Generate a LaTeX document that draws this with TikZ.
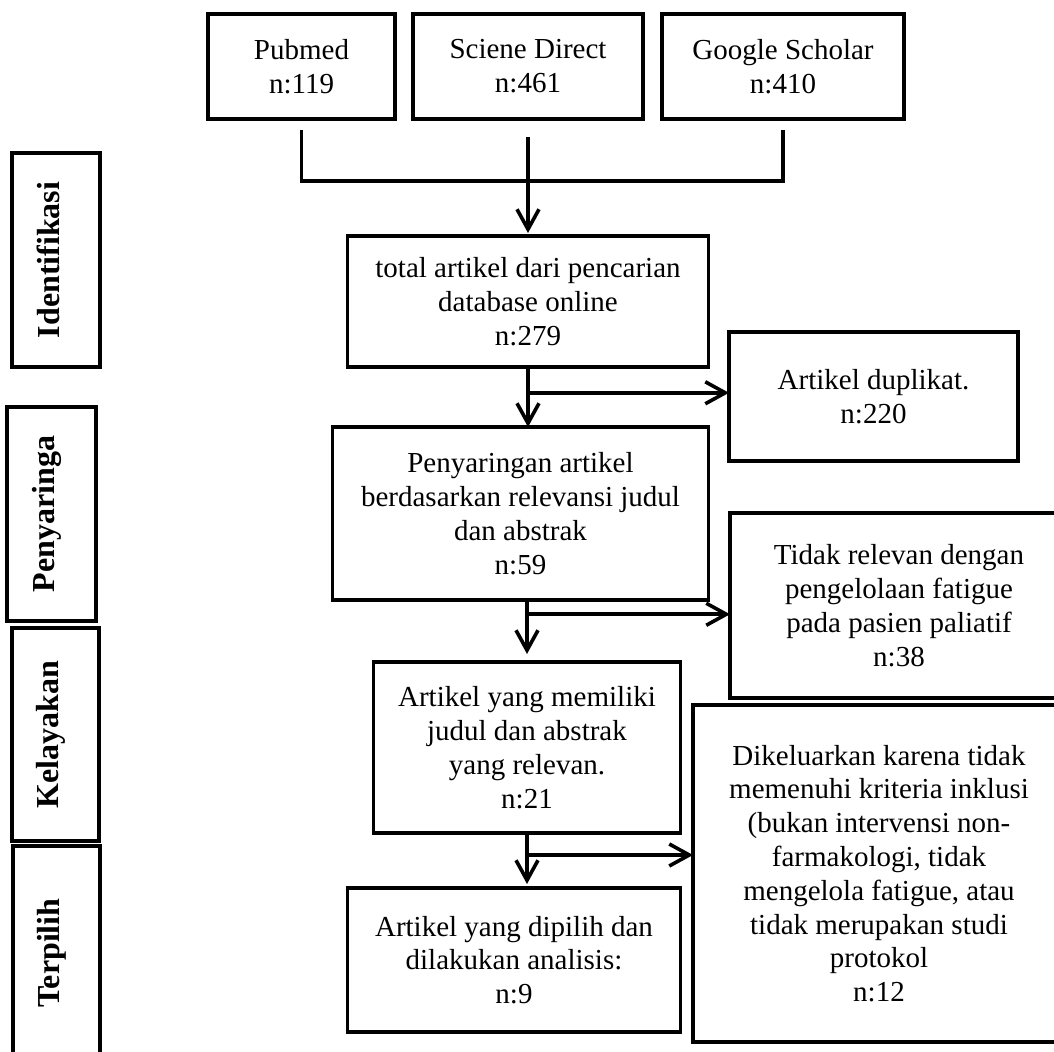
\documentclass[tikz,border=0pt]{standalone}
\usepackage{fontspec}
\setmainfont{Liberation Serif}
\usetikzlibrary{arrows.meta,calc,positioning}

\begin{document}
\begin{tikzpicture}[box/.style={draw,line width=1.7pt,outer sep=0pt,inner sep=0pt,align=center,font=\fontsize{14.5}{16.9}\selectfont},
stage/.style={draw,line width=1.8pt,outer sep=0pt,inner sep=0pt,rotate=90,minimum width=107pt,text height=11pt,text depth=8pt,font=\fontsize{16}{19}\selectfont\bfseries},
link/.style={line width=1.8pt},
arr/.style={line width=1.8pt,-{Straight Barb[length=10pt,width=11pt]}}]
\useasboundingbox (0,0) rectangle (527pt,-526pt);

% Nodes
\node[box,minimum width=93.5pt,minimum height=52.5pt] (pub) at (150.75pt,-33.25pt) {Pubmed\\n:119};
\node[box,minimum width=115pt,minimum height=52.5pt,right=9pt of pub] (sci) {Sciene Direct\\n:461};
\node[box,minimum width=121pt,minimum height=52.5pt,right=9.5pt of sci] (goo) {Google Scholar\\n:410};

\node[box,minimum width=180.5pt,minimum height=65.5pt,below=58.5pt of sci] (tot) {total artikel dari pencarian\\database online\\n:279};
\node[box,minimum width=188pt,minimum height=86.5pt,below=30pt of tot,xshift=-3.75pt] (pen) {Penyaringan artikel\\berdasarkan relevansi judul\\dan abstrak\\n:59};
\node[box,minimum width=153.5pt,minimum height=85.5pt,below=31pt of pen,xshift=3.25pt] (mem) {Artikel yang memiliki\\judul dan abstrak\\yang relevan.\\n:21};
\node[box,minimum width=166.5pt,minimum height=72pt,below=27.5pt of mem,xshift=-6.5pt] (pil) {Artikel yang dipilih dan\\dilakukan analisis:\\n:9};

\node[box,minimum width=144.5pt,minimum height=64.5pt] (dup) at (436.75pt,-198.25pt) {Artikel duplikat.\\n:220};
\node[box,minimum width=169pt,minimum height=92.5pt] (rel) at (449.5pt,-302.75pt) {Tidak relevan dengan\\pengelolaan fatigue\\pada pasien paliatif\\n:38};
\node[box,minimum width=186pt,minimum height=168.5pt] (kel) at (439.5pt,-436.75pt) {Dikeluarkan karena tidak\\memenuhi kriteria inklusi\\(bukan intervensi non-\\farmakologi, tidak\\mengelola fatigue, atau\\tidak merupakan studi\\protokol\\n:12};

\node[stage,minimum height=44pt] (idf) at (28pt,-130pt) {Identifikasi};
\node[stage,minimum height=44.5pt] (pny) at (25.75pt,-257pt) {Penyaringa};
\node[stage,minimum height=43.5pt,minimum width=106.5pt] (kly) at (27.75pt,-367.25pt) {Kelayakan};
\node[stage,minimum height=43.5pt] (tpl) at (28.25pt,-476.5pt) {Terpilih};

%arcs
\draw[link,shorten <=5.5pt,shorten >=5.5pt] (pub.south) -- ++(0,-31pt) -| (goo.south);
\path (sci.south) edge[arr,shorten <=9pt,shorten >=1.5pt] (tot.north);

\path (tot.south) edge[arr] (tot.south |- pen.north);
\coordinate (b1) at ($(tot.south)!0.43!(tot.south |- pen.north)$);
\path (b1) edge[arr] (b1 -| dup.west);

\path (pen.south -| mem.north) edge[arr,shorten >=4pt] (mem.north);
\coordinate (b2) at ($(pen.south -| mem.north)!0.23!(mem.north)$);
\path (b2) edge[arr] (b2 -| rel.west);

\path (mem.south) edge[arr,shorten >=2pt] (mem.south |- pil.north);
\coordinate (b3) at ($(mem.south)!0.4!(mem.south |- pil.north)$);
\path (b3) edge[arr] (b3 -| kel.west);

\end{tikzpicture}
\end{document}
